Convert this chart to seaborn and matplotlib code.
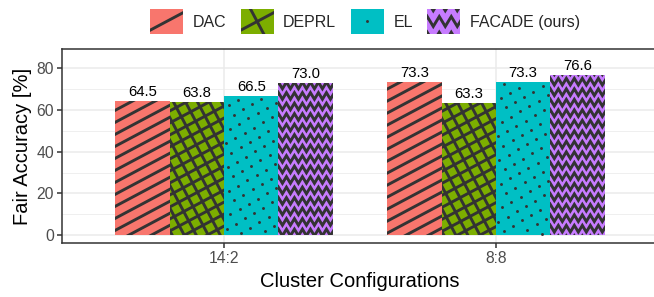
import numpy as np
import pandas as pd
import matplotlib
matplotlib.use("Agg")
import matplotlib.pyplot as plt
import seaborn as sns
from matplotlib.patches import Rectangle
from matplotlib.collections import LineCollection
from matplotlib.lines import Line2D
from matplotlib.transforms import IdentityTransform
from matplotlib.legend_handler import HandlerBase

# ---------------- data ----------------
configs = ["14:2", "8:8"]
methods = ["DAC", "DEPRL", "EL", "FACADE (ours)"]
dac = [64.5, 73.3]
deprl = [63.8, 63.3]
el = [66.5, 73.3]
facade = [73.0, 76.6]
colors = ["#F8766D", "#7CAE00", "#00BFC4", "#C77CFF"]
patterns = ["stripe", "crosshatch", "circle", "zigzag"]
yticks = [0, 20, 40, 60, 80]

df = pd.DataFrame({
    "Configuration": configs * 4,
    "Method": np.repeat(methods, len(configs)),
    "Accuracy": dac + deprl + el + facade,
})

sns.set_theme(style="white")
plt.rcParams["font.family"] = ["Liberation Sans", "DejaVu Sans"]

DPI = 100
W, H = 654, 297
fig = plt.figure(figsize=(W / DPI, H / DPI), dpi=DPI)
ax = fig.add_axes([62 / W, 54 / H, 596 / W, 194 / H])

sns.barplot(data=df, x="Configuration", y="Accuracy", hue="Method",
            order=configs, hue_order=methods, palette=colors, saturation=1,
            width=0.8, linewidth=0, errorbar=None, legend=False, ax=ax, zorder=1)

ax.set_xlim(-0.596, 1.596)
ax.set_ylim(-3.85, 89.3)
ax.set_yticks(yticks)
ax.set_yticks([10, 30, 50, 70], minor=True)
ax.grid(which="major", axis="both", color="#EBEBEB", lw=1.1)
ax.grid(which="minor", axis="y", color="#EBEBEB", lw=0.55)
ax.set_axisbelow(True)
for sp in ax.spines.values():
    sp.set_color("#333333")
    sp.set_linewidth(1.1)
ax.spines["right"].set_visible(False)
ax.tick_params(axis="both", which="major", length=3.3, width=1.1, color="#333333",
               labelcolor="#4D4D4D", labelsize=11.3, pad=2.5, bottom=True, left=True)
ax.tick_params(axis="both", which="minor", length=0)
ax.set_xlabel("Cluster Configurations", fontsize=14.5, color="black", labelpad=4)
ax.set_ylabel("Fair Accuracy [%]", fontsize=14.5, color="black", labelpad=3)

INK = "#333333"


def pattern_artists(kind, x0, y0, x1, y1, u, transform, scale=1.0):
    cx, cy = (x0 + x1) / 2, (y0 + y1) / 2
    ctr = np.array([cx, cy])
    R = np.hypot(x1 - x0, y1 - y0) / 2 + 25 * u * scale
    arts = []
    if kind in ("stripe", "crosshatch"):
        angles = [28] if kind == "stripe" else [28, 118]
        s = 10.6 * u * scale
        segs = []
        for ang in angles:
            t = np.deg2rad(ang)
            d = np.array([np.cos(t), np.sin(t)])
            n = np.array([-np.sin(t), np.cos(t)])
            kmax = int(R / s) + 1
            for k in range(-kmax, kmax + 1):
                c = ctr + k * s * n
                segs.append([c - R * d, c + R * d])
        lc = LineCollection(segs, colors=INK, linewidths=2.1, transform=transform,
                            capstyle="butt", zorder=2)
        arts.append(lc)
    elif kind == "circle":
        s = 10.6 * u * scale
        t = np.deg2rad(30)
        d = np.array([np.cos(t), np.sin(t)])
        n = np.array([-np.sin(t), np.cos(t)])
        kmax = int(R / s) + 1
        xs, ys = [], []
        m = 1.2 * u
        for i in range(-kmax, kmax + 1):
            for j in range(-kmax, kmax + 1):
                p = ctr + i * s * d + j * s * n
                if x0 + m <= p[0] <= x1 - m and y0 + m <= p[1] <= y1 - m:
                    xs.append(p[0]); ys.append(p[1])
        ln = Line2D(xs, ys, ls="none", marker="o", ms=2.1, mfc=INK, mec="none",
                    transform=transform, zorder=2)
        arts.append(ln)
    elif kind == "zigzag":
        P = 8.0 * u * scale
        A = 3.3 * u * scale
        rs = 10.5 * u * scale
        xs = np.arange(x0 - P, x1 + P, P / 2)
        off = A * (-1.0) ** np.arange(len(xs))
        kmax = int((y1 - y0) / 2 / rs) + 2
        segs = []
        for k in range(-kmax, kmax + 1):
            segs.append(np.column_stack([xs, cy + k * rs + off]))
        lc = LineCollection(segs, colors=INK, linewidths=2.1, transform=transform,
                            joinstyle="miter", capstyle="butt", zorder=2)
        arts.append(lc)
    return arts


# patterns on bars (drawn in pixel space, clipped to each bar)
for kind, cont in zip(patterns, ax.containers):
    for patch in cont.patches:
        (px0, py0) = ax.transData.transform((patch.get_x(), patch.get_y()))
        (px1, py1) = ax.transData.transform((patch.get_x() + patch.get_width(),
                                             patch.get_y() + patch.get_height()))
        for a in pattern_artists(kind, px0, py0, px1, py1, 1.0, IdentityTransform()):
            if isinstance(a, Line2D):
                ax.add_line(a)
                a.set_clip_on(False)
            else:
                ax.add_collection(a, autolim=False)
                a.set_clip_path(patch)
    ax.bar_label(cont, fmt="%.1f", padding=1.5, fontsize=10.7, color="black")


class PatternHandler(HandlerBase):
    def __init__(self, kind, color, scale):
        super().__init__()
        self.kind, self.color, self.scale = kind, color, scale

    def create_artists(self, legend, orig_handle, xdescent, ydescent, width, height,
                       fontsize, trans):
        rect = Rectangle((-xdescent, -ydescent), width, height, facecolor=self.color,
                         edgecolor="none", transform=trans)
        arts = pattern_artists(self.kind, -xdescent, -ydescent, -xdescent + width,
                               -ydescent + height, 72 / DPI, trans, self.scale)
        for a in arts:
            if not isinstance(a, Line2D):
                a.set_clip_path(rect)
        return [rect] + arts


handles = [Rectangle((0, 0), 1, 1, facecolor=c) for c in colors]
key_scales = [2.1, 2.1, 2.1, 1.5]
hmap = {h: PatternHandler(k, c, s) for h, k, c, s in zip(handles, patterns, colors, key_scales)}
fs = 11.5
fig.legend(handles, methods, handler_map=hmap, loc="center",
           bbox_to_anchor=(365 / W, 1 - 21.5 / H), ncol=4, frameon=False,
           fontsize=fs, handlelength=23.8 / fs, handleheight=23.8 / fs,
           handletextpad=0.6, columnspacing=0.9, borderpad=0, borderaxespad=0)

fig.savefig("out.png", dpi=DPI)
